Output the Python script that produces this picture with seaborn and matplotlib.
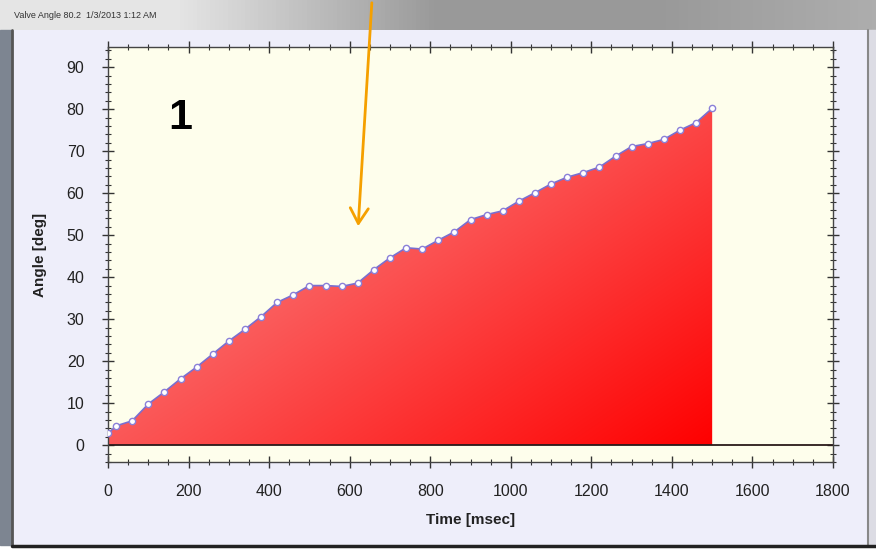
import numpy as np
import pandas as pd
import matplotlib
matplotlib.use("Agg")
import matplotlib.pyplot as plt
from matplotlib.ticker import MultipleLocator
import seaborn as sns

# ---- data ----
time_ms = [0, 20, 60, 100, 140, 180, 220, 260, 300, 340, 380, 420, 460, 500,
           540, 580, 620, 660, 700, 740, 780, 820, 860, 900, 940, 980, 1020,
           1060, 1100, 1140, 1180, 1220, 1260, 1300, 1340, 1380, 1420, 1460, 1500]
angle_deg = [2.8, 4.6, 5.8, 9.8, 12.7, 15.8, 18.6, 21.7, 24.8, 27.6, 30.6, 34.0,
             35.8, 38.0, 38.0, 37.8, 38.6, 41.8, 44.6, 47.0, 46.7, 48.8, 50.8,
             53.7, 54.9, 55.8, 58.1, 60.1, 62.2, 63.8, 64.9, 66.2, 68.8, 71.1,
             71.8, 72.8, 75.0, 76.8, 80.2]
x_ticks = [0, 200, 400, 600, 800, 1000, 1200, 1400, 1600, 1800]
y_ticks = [0, 10, 20, 30, 40, 50, 60, 70, 80, 90]
window_title = "Valve Angle 80.2  1/3/2013 1:12 AM"

df = pd.DataFrame({"Time [msec]": time_ms, "Angle [deg]": angle_deg})

sns.set_style("ticks")
plt.rcParams["font.family"] = ["Liberation Sans", "DejaVu Sans"]

W, H = 876, 554
fig = plt.figure(figsize=(W / 100, H / 100), dpi=100)

# ---- background "window" ----
bg = fig.add_axes([0, 0, 1, 1], zorder=-5)
bg.set_xlim(0, W)
bg.set_ylim(H, 0)
bg.axis("off")
tb = np.linspace(0, 1, 200)
tcol = np.zeros((1, 200, 3))
shade = np.clip(0.90 - 0.30 * np.clip((tb - 0.2) / 0.3, 0, 1) + 0.08 * np.clip((tb - 0.75) / 0.25, 0, 1), 0, 1)
tcol[0, :, :] = shade[:, None]
bg.imshow(tcol, extent=[0, W, 30, 0], aspect="auto", zorder=0)
bg.add_patch(plt.Rectangle((0, 30), 12, 515, color="#7d8591", zorder=1))
bg.add_patch(plt.Rectangle((12, 30), 856, 515, facecolor="#eeeefa", edgecolor="none", zorder=1))
bg.plot([12, 12], [30, 545], color="#555555", lw=2, zorder=2)
bg.plot([868, 868], [30, 545], color="#888888", lw=1.5, zorder=2)
bg.add_patch(plt.Rectangle((868, 30), 8, 515, color="#dcdce4", zorder=1))
bg.add_patch(plt.Rectangle((12, 545), 864, 9, color="white", zorder=1))
bg.plot([12, 876], [546, 546], color="#222222", lw=2.5, zorder=2)
bg.text(14, 15, window_title, fontsize=6.5, color="#333333", va="center", ha="left")

# ---- main chart ----
left, right = 108 / W, 833 / W
top, bottom = 1 - 47 / H, 1 - 462 / H
ax = fig.add_axes([left, bottom, right - left, top - bottom])
ax.set_facecolor("#fefeec")

# gradient fill under the curve
poly = ax.fill_between(df["Time [msec]"], df["Angle [deg]"], 0, color="none", lw=0)
ny, nx = 200, 300
u = np.linspace(0, 1, nx)[None, :]
v = np.linspace(0, 1, ny)[:, None]
t = np.clip(0.55 * u + 0.45 * (1 - v), 0, 1)
c0 = np.array([0.97, 0.62, 0.62])
c1 = np.array([1.0, 0.0, 0.0])
grad = c0[None, None, :] * (1 - t[..., None]) + c1[None, None, :] * t[..., None]
im = ax.imshow(grad, extent=[min(time_ms), max(time_ms), 0, max(angle_deg)],
               origin="lower", aspect="auto", zorder=1, interpolation="bilinear")
im.set_clip_path(poly.get_paths()[0], transform=ax.transData)

ax.axhline(0, color="#2a1a1a", lw=1.3, zorder=2)

sns.lineplot(data=df, x="Time [msec]", y="Angle [deg]", ax=ax, color="#7a6fd0",
             lw=1.2, marker="o", markersize=4.5, markerfacecolor="white",
             markeredgecolor="#8a80d8", markeredgewidth=1.0, zorder=3)

ax.set_xlim(0, 1800)
ax.set_ylim(-4, 94.8)
ax.set_xticks(x_ticks)
ax.set_yticks(y_ticks)
ax.xaxis.set_minor_locator(MultipleLocator(50))
ax.yaxis.set_minor_locator(MultipleLocator(2))
ax.tick_params(which="major", direction="inout", length=8, width=1, color="#333333",
               labelsize=11.5, labelcolor="#222222", top=True, right=True)
ax.tick_params(axis="x", which="major", pad=12)
ax.tick_params(axis="y", which="major", pad=13)
ax.tick_params(which="minor", direction="inout", length=4, width=0.8, color="#333333",
               top=True, right=True)
for s in ax.spines.values():
    s.set_color("#444444")
    s.set_linewidth(1)

ax.set_xlabel("Time [msec]", fontsize=11, fontweight="bold", color="#222222", labelpad=10)
ax.set_ylabel("Angle [deg]", fontsize=11, fontweight="bold", color="#222222", labelpad=14)

ax.text(0.1, 0.83, "1", transform=ax.transAxes, fontsize=31, fontweight="bold",
        color="black", ha="center", va="center")

# orange annotation arrow (figure pixels)
fig.patches.append(matplotlib.patches.FancyArrowPatch(
    (372 / W, 1.0), (358 / W, 1 - 229 / H), transform=fig.transFigure,
    arrowstyle="->,head_length=4.4,head_width=2.6", color="#f5a000", lw=2,
    mutation_scale=2.5, zorder=10))

fig.savefig("out.png", dpi=100)
